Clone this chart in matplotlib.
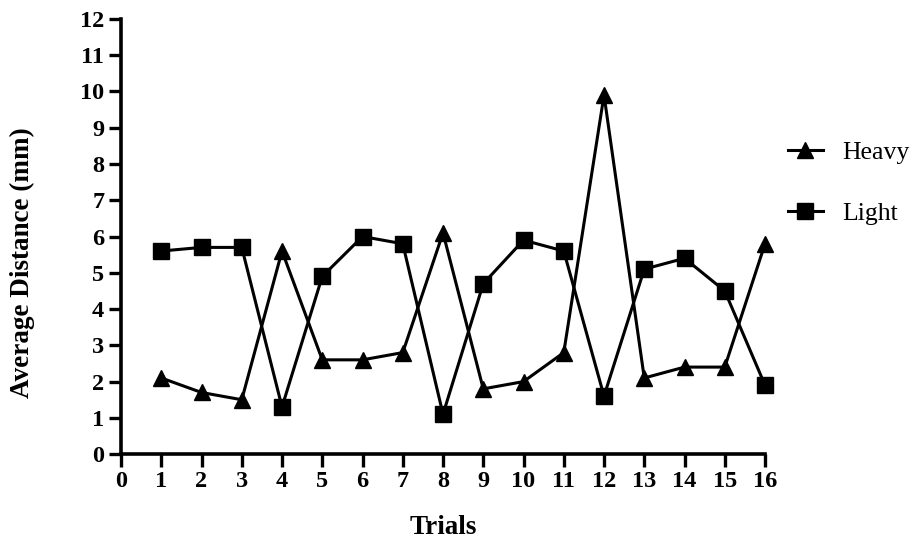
import matplotlib
matplotlib.use("Agg")
import matplotlib.pyplot as plt

trials = list(range(1, 17))
heavy = [2.1, 1.7, 1.5, 5.6, 2.6, 2.6, 2.8, 6.1, 1.8, 2.0, 2.8, 9.9, 2.1, 2.4, 2.4, 5.8]
light = [5.6, 5.7, 5.7, 1.3, 4.9, 6.0, 5.8, 1.1, 4.7, 5.9, 5.6, 1.6, 5.1, 5.4, 4.5, 1.9]
x_ticks = list(range(0, 17))
y_ticks = list(range(0, 13))

plt.rcParams['font.family'] = ['Liberation Serif', 'DejaVu Serif']

fig = plt.figure(figsize=(9.14, 5.4), dpi=100)
ax = fig.add_axes([0.1324, 0.159, 0.7046, 0.806])

ax.plot(trials, heavy, color='black', lw=2.2, marker='^', ms=12,
        label='Heavy', clip_on=False, zorder=3)
ax.plot(trials, light, color='black', lw=2.2, marker='s', ms=11.5,
        label='Light', clip_on=False, zorder=3)

ax.set_xlim(0, 16)
ax.set_ylim(0, 12)
ax.set_xticks(x_ticks)
ax.set_yticks(y_ticks)
ax.set_xticklabels([str(t) for t in x_ticks], fontweight='bold', fontsize=17.5)
ax.set_yticklabels([str(t) for t in y_ticks], fontweight='bold', fontsize=17.5)

for side in ('top', 'right'):
    ax.spines[side].set_visible(False)
for side in ('left', 'bottom'):
    ax.spines[side].set_linewidth(2.6)
    ax.spines[side].set_capstyle('projecting')
ax.tick_params(axis='both', direction='out', length=9, width=2.4, pad=3,
               color='black')

ax.set_xlabel('Trials', fontweight='bold', fontsize=19.5)
ax.xaxis.set_label_coords(0.5, -0.14)
ax.set_ylabel('Average Distance (mm)', fontweight='bold', fontsize=19.5)
ax.yaxis.set_label_coords(-0.134, 0.44)

fig.legend(loc='upper left', bbox_to_anchor=(788 / 914, 1 - 141 / 540),
           frameon=False, fontsize=18.5, handlelength=1.35, handletextpad=0.75,
           labelspacing=1.47, borderaxespad=0, borderpad=0)

fig.savefig('out.png', dpi=100)
